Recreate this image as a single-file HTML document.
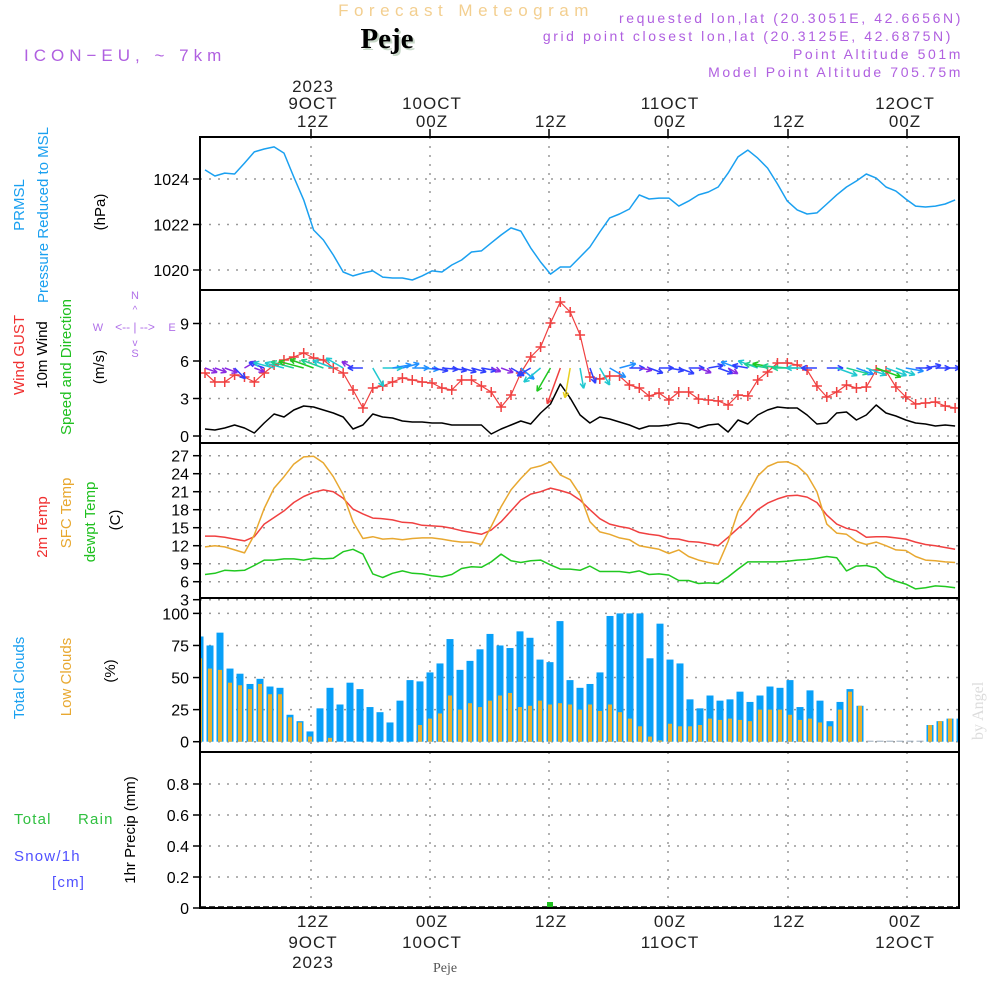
<!DOCTYPE html>
<html><head><meta charset="utf-8"><style>
html,body{margin:0;padding:0;background:#fff;}
svg{display:block;font-family:"Liberation Sans",sans-serif;}
</style></head><body>
<svg id="chart" width="1000" height="1000" viewBox="0 0 1000 1000">
<rect x="0" y="0" width="1000" height="1000" fill="#fff"/>
<text x="466" y="16" text-anchor="middle" font-size="17" fill="#f3cf90" letter-spacing="5.5">Forecast Meteogram</text>
<text x="389" y="50" text-anchor="middle" font-size="29" font-weight="bold" font-family="Liberation Serif,serif" fill="#c8d8c8">Peje</text>
<text x="387" y="48" text-anchor="middle" font-size="29" font-weight="bold" font-family="Liberation Serif,serif" fill="#000">Peje</text>
<text x="24" y="61" font-size="17" fill="#b060e0" letter-spacing="5">ICON−EU, ~ 7km</text>
<g font-size="14" fill="#b060e0" text-anchor="end" letter-spacing="2.6">
<text x="963" y="23">requested lon,lat (20.3051E, 42.6656N)</text>
<text x="953" y="41">grid point closest lon,lat (20.3125E, 42.6875N)</text>
<text x="963" y="59">Point Altitude 501m</text>
<text x="963" y="77">Model Point Altitude 705.75m</text>
</g>
<g id="topaxis" font-size="17" fill="#222" text-anchor="middle" letter-spacing="1">
<text x="313" y="92">2023</text><text x="313" y="109">9OCT</text><text x="313" y="127">12Z</text>
<text x="432" y="109">10OCT</text><text x="432" y="127">00Z</text>
<text x="551" y="127">12Z</text>
<text x="670" y="109">11OCT</text><text x="670" y="127">00Z</text>
<text x="789" y="127">12Z</text>
<text x="905" y="109">12OCT</text><text x="905" y="127">00Z</text>
</g>
<g font-size="17" fill="#222" text-anchor="middle" letter-spacing="1">
<text x="313" y="927">12Z</text><text x="313" y="948">9OCT</text><text x="313" y="968">2023</text>
<text x="432" y="927">00Z</text><text x="432" y="948">10OCT</text>
<text x="551" y="927">12Z</text>
<text x="670" y="927">00Z</text><text x="670" y="948">11OCT</text>
<text x="789" y="927">12Z</text>
<text x="905" y="927">00Z</text><text x="905" y="948">12OCT</text>
</g>
<text x="445" y="972" text-anchor="middle" font-size="14" font-family="Liberation Serif,serif" fill="#555">Peje</text>
<text transform="translate(983,740) rotate(-90)" font-size="16" font-family="Liberation Serif,serif" fill="#dcdcdc">by Angel</text>

<g font-size="15" text-anchor="middle">
<text transform="translate(24,205) rotate(-90)" fill="#1aa0f0">PRMSL</text>
<text transform="translate(48,215) rotate(-90)" fill="#1aa0f0">Pressure Reduced to MSL</text>
<text transform="translate(105,212) rotate(-90)" fill="#000">(hPa)</text>
<text transform="translate(24,355) rotate(-90)" fill="#f03030">Wind GUST</text>
<text transform="translate(47,355) rotate(-90)" fill="#000">10m Wind</text>
<text transform="translate(71,367) rotate(-90)" fill="#20c020">Speed and Direction</text>
<text transform="translate(104,367) rotate(-90)" fill="#000">(m/s)</text>
<text transform="translate(47,527) rotate(-90)" fill="#f03030">2m Temp</text>
<text transform="translate(71,513) rotate(-90)" fill="#e8a830">SFC Temp</text>
<text transform="translate(95,522) rotate(-90)" fill="#20c020">dewpt Temp</text>
<text transform="translate(120,520) rotate(-90)" fill="#000">(C)</text>
<text transform="translate(24,678) rotate(-90)" fill="#1aa0f0">Total Clouds</text>
<text transform="translate(71,677) rotate(-90)" fill="#e8a830">Low Clouds</text>
<text transform="translate(115,671) rotate(-90)" fill="#000">(%)</text>
<text transform="translate(135,830) rotate(-90)" fill="#000">1hr Precip (mm)</text>
</g>
<g font-size="15" letter-spacing="1.2">
<text x="14" y="824" fill="#30c040">Total</text><text x="78" y="824" fill="#30c040">Rain</text>
<text x="14" y="861" fill="#5050ff">Snow/1h</text>
<text x="52" y="887" fill="#5050ff">[cm]</text>
</g>
<g font-size="11" fill="#b070e8" text-anchor="middle">
<text x="135" y="299">N</text><text x="135" y="357">S</text><text x="98" y="331">W</text><text x="172" y="331">E</text>
<text x="135" y="331" font-size="12">&lt;-- | --&gt;</text>
<text x="135" y="313" font-size="10">^</text><text x="135" y="346" font-size="10">v</text>
</g>
<g id="grid"></g>
<g id="marks"></g>
<g id="frames"></g>
</svg>
<script>
const hours = 77;
const dayTickLabels = ["12Z","00Z","12Z","00Z","12Z","00Z"];
const pressure = [1024.40,1024.13,1024.26,1024.22,1024.70,1025.19,1025.32,1025.41,1025.14,1024.09,1023.08,1021.76,1021.32,1020.66,1019.91,1019.74,1019.87,1019.96,1019.69,1019.65,1019.65,1019.56,1019.74,1019.96,1019.91,1020.22,1020.44,1020.79,1020.84,1021.19,1021.54,1021.85,1021.71,1020.97,1020.35,1019.82,1020.13,1020.13,1020.57,1021.01,1021.67,1022.29,1022.46,1022.68,1023.30,1023.12,1023.16,1023.16,1022.81,1023.03,1023.30,1023.43,1023.65,1024.26,1024.97,1025.27,1024.92,1024.48,1023.78,1023.03,1022.64,1022.46,1022.51,1022.90,1023.30,1023.65,1023.91,1024.22,1024.04,1023.65,1023.47,1023.12,1022.81,1022.77,1022.81,1022.90,1023.08];
const gust = [5.04,4.32,4.32,4.88,4.72,4.32,5.04,5.68,6.08,6.32,6.64,6.24,6.08,5.44,5.04,3.68,2.24,3.84,4.0,4.32,4.64,4.48,4.32,4.24,3.84,3.68,4.48,4.48,4.0,3.52,2.32,3.28,5.04,6.32,7.12,9.04,10.72,9.92,8.08,4.72,4.56,4.8,4.8,4.08,3.84,3.2,3.44,2.88,3.52,3.52,2.96,2.88,2.8,2.48,3.28,3.2,4.48,5.12,5.84,5.84,5.68,5.28,4.0,3.12,3.52,4.08,3.84,3.92,5.28,5.2,3.92,3.12,2.56,2.64,2.72,2.4,2.24];
const wind10m = [0.56,0.48,0.64,0.88,0.64,0.24,1.04,1.76,1.52,2.08,2.4,2.32,2.08,1.84,1.52,0.56,0.88,1.76,1.52,1.44,1.2,1.12,1.12,1.04,1.04,0.88,0.88,0.88,0.88,0.16,0.56,0.88,1.2,0.96,1.84,2.56,4.16,3.04,1.68,1.04,1.52,1.36,1.12,0.88,0.56,0.8,0.8,0.88,1.04,0.96,0.64,0.88,0.96,0.32,1.28,0.96,1.68,2.08,2.32,2.24,2.24,1.68,0.96,1.04,1.84,1.92,1.28,1.68,2.48,1.84,1.6,1.28,1.04,0.96,0.8,0.88,0.8];
const windHeading = [20,20,20,45,-30,20,200,195,195,195,195,200,200,200,210,210,180,60,0,-10,-15,0,5,10,5,10,15,15,10,20,20,30,40,150,140,120,110,100,80,70,60,30,-15,0,10,20,0,10,20,0,20,-10,20,30,200,190,200,190,190,185,180,180,180,0,20,15,20,20,20,20,20,10,0,-10,0,0,0];
const temp2m = [13.6,13.6,13.4,13.1,12.8,13.5,15.6,16.7,17.8,19.2,20.2,20.9,21.3,21.0,19.9,18.1,17.3,16.6,16.5,16.3,15.9,15.8,15.4,15.3,15.2,14.9,14.5,14.2,13.9,14.6,16.0,17.8,19.6,20.6,21.0,21.6,21.2,20.7,19.6,18.0,16.5,15.6,15.2,14.9,14.2,13.9,13.7,13.2,13.1,12.7,12.6,12.3,12.0,13.4,14.9,16.3,18.0,19.1,19.8,20.3,20.4,20.1,19.2,17.1,15.6,14.9,14.5,13.4,13.5,13.5,13.3,13.1,12.6,12.2,12.0,11.7,11.4];
const tempSfc = [11.8,12.0,11.8,11.3,10.8,13.8,18.2,21.6,23.5,25.6,26.8,26.9,25.8,23.5,20.5,16.0,13.2,13.5,13.1,13.2,13.0,13.2,13.3,13.3,13.1,12.8,12.6,12.6,12.2,15.2,18.5,21.3,23.2,24.9,25.3,26.0,23.8,23.0,20.5,16.0,14.3,13.9,13.3,13.0,12.0,11.7,11.4,10.7,11.3,10.2,9.6,9.2,8.9,12.7,17.7,20.5,23.6,25.2,25.9,26.0,25.3,23.8,21.0,15.6,14.1,13.9,12.7,12.2,12.6,12.0,11.3,11.2,10.2,9.6,9.5,9.3,9.2];
const dewpoint = [7.2,7.4,7.9,7.8,7.9,8.7,9.6,9.6,9.8,9.8,9.6,9.9,9.8,9.9,11.0,11.4,10.6,7.3,6.7,7.4,7.8,7.4,7.3,7.0,6.8,7.2,8.2,8.5,8.4,9.3,10.6,9.5,9.2,9.5,9.6,8.8,8.1,8.1,7.9,8.6,7.7,7.7,7.7,7.5,7.8,7.2,7.3,7.1,6.2,6.2,5.7,5.8,5.7,6.8,8.1,9.3,9.3,9.3,9.3,9.4,9.6,9.7,9.9,10.2,10.0,7.8,8.6,8.7,8.3,6.8,6.1,5.6,4.8,5.0,5.3,5.2,5.0];
const totalClouds = [82,75,85,57,53,45,49,43,42,21,16,8,26,42,29,46,41,27,23,15,32,48,47,54,61,80,56,63,72,84,75,73,86,81,64,62,94,48,42,45,54,98,100,100,100,65,92,64,61,33,26,36,32,33,39,31,36,43,42,48,27,40,32,16,31,41,28,0,0,0,0,0,0,13,16,18,18];
const lowClouds = [65,57,56,46,44,41,45,37,37,19,15,4,0,3,0,0,0,0,0,0,0,0,13,18,22,36,25,30,27,32,36,38,27,28,32,29,30,29,25,29,24,29,23,18,12,4,1,14,12,12,13,18,17,18,17,16,25,25,25,21,17,18,15,12,25,39,28,0,0,0,0,0,0,13,16,18,18];
const rain = [0,0,0,0,0,0,0,0,0,0,0,0,0,0,0,0,0,0,0,0,0,0,0,0,0,0,0,0,0,0,0,0,0,0,0,0.03,0,0,0,0,0,0,0,0,0,0,0,0,0,0,0,0,0,0,0,0,0,0,0,0,0,0,0,0,0,0,0,0,0,0,0,0,0,0,0,0,0];
const pressureTicks = [1020,1022,1024];
const windTicks = [0,3,6,9];
const tempTicks = [3,6,9,12,15,18,21,24,27];
const cloudTicks = [0,25,50,75,100];
const precipTicks = [0,0.2,0.4,0.6,0.8];

const NS="http://www.w3.org/2000/svg";
const L=200,R=959;
const P={pres:[137,290],wind:[290,443],temp:[443,598],cloud:[598,752],prec:[752,908]};
const vx=[311,430,549,668,788,907];
const xL=i=>205+9.87*i;
const xB=i=>200+10*i;
const yP=p=>270-(p-1020)*22.75;
const yW=v=>436-v*12.5;
const yT=t=>455.7+(27-t)*6;
const yC=c=>741.7-c*1.283;
const yR=r=>908-r*155;
function el(tag,attrs,parent){const e=document.createElementNS(NS,tag);for(const k in attrs)e.setAttribute(k,attrs[k]);parent.appendChild(e);return e;}
const grid=document.getElementById('grid'),marks=document.getElementById('marks'),frames=document.getElementById('frames');

function panel(name,range,ticks,yf,fmt){
  for(const x of vx){
    const g=el('line',{x1:x,x2:x,y1:range[0],y2:range[1],stroke:'#999','stroke-width':1.5,'stroke-dasharray':'2,7'},grid);
    
    
  }
  for(const t of ticks){
    const y=yf(t);
    const h=el('line',{x1:L,x2:R,y1:y,y2:y,stroke:'#999','stroke-width':1.5,'stroke-dasharray':'2,7'},grid);
    
    
    const tk=el('line',{x1:L-7,x2:L,y1:y,y2:y,stroke:'#000','stroke-width':1.5},frames);
    
    
    const tx=el('text',{x:L-11,y:y+6,'text-anchor':'end','font-size':16,fill:'#000'},frames);
    tx.textContent=fmt(t);
    
    
  }
  const f=el('rect',{x:L,y:range[0],width:R-L,height:range[1]-range[0],fill:'none',stroke:'#000','stroke-width':2},frames);
  
  
}
panel('pressure',P.pres,pressureTicks,yP,t=>t);
panel('wind',P.wind,windTicks,yW,t=>t);
panel('temp',P.temp,tempTicks,yT,t=>t);
panel('cloud',P.cloud,cloudTicks,yC,t=>t);
panel('precip',P.prec,precipTicks,yR,t=>t===0?'0':t.toFixed(1));
for(let k=0;k<vx.length;k++){
  const t=el('line',{x1:vx[k],x2:vx[k],y1:129,y2:137,stroke:'#000','stroke-width':1.5},frames);
  
  
}
const clip=el('clipPath',{id:'pc'},document.getElementById('chart'));
el('rect',{x:L,y:130,width:R-L,height:790},clip);
marks.setAttribute('clip-path','url(#pc)');

function line(arr,xf,yf,color,name,w){
  const pts=arr.map((v,i)=>xf(i).toFixed(1)+','+yf(v).toFixed(1)).join(' ');
  const p=el('polyline',{points:pts,fill:'none',stroke:color,'stroke-width':w||1.5,'stroke-linejoin':'round'},marks);
  
  
}
line(pressure,xL,yP,'#1aa0f0','pressure-line');
line(wind10m,xL,yW,'#000','wind-10m-line');
line(gust,xL,yW,'#f04040','wind-gust-line',1.2);
gust.forEach((v,i)=>{
  const x=xL(i),y=yW(v);
  const m=el('path',{d:`M${x-5},${y}H${x+5}M${x},${y-5}V${y+5}`,stroke:'#f04040','stroke-width':1.5},marks);
  
  
});
function wcol(s){
  if(s<0.7)return'#8a2be2';if(s<1.1)return'#3040ff';if(s<1.5)return'#2090ff';if(s<1.9)return'#20c8d0';
  if(s<2.3)return'#20d090';if(s<2.8)return'#20c820';if(s<3.5)return'#e8d020';return'#f04040';
}
windHeading.forEach((a,i)=>{
  const s=wind10m[i],len=9+7*s,r=a*Math.PI/180;
  const x0=xL(i),y0=368,x1=x0+len*Math.cos(r),y1=y0+len*Math.sin(r);
  const h1=r+Math.PI-0.45,h2=r+Math.PI+0.45;
  const d=`M${x0},${y0}L${x1},${y1}M${x1},${y1}L${x1+6*Math.cos(h1)},${y1+6*Math.sin(h1)}M${x1},${y1}L${x1+6*Math.cos(h2)},${y1+6*Math.sin(h2)}`;
  const ar=el('path',{d:d,stroke:wcol(s),'stroke-width':1.5,fill:'none'},marks);
  
  
});
line(temp2m,xL,yT,'#f04040','temp-2m-line');
line(tempSfc,xL,yT,'#e8a830','temp-sfc-line');
line(dewpoint,xL,yT,'#20c820','dewpoint-line');
totalClouds.forEach((c,i)=>{
  const x=xB(i),y=yC(c),h=Math.max(yC(0)-y,1);
  const b=el('rect',{x:x-3.5,y:yC(0)-h,width:7,height:h,fill:c>0?'#08a0f8':'#9ab'},marks);
  
  
  const lc=lowClouds[i];
  if(lc>0){
    const o=el('rect',{x:x-2,y:yC(lc),width:4,height:yC(0)-yC(lc),fill:'#e8b030'},marks);
    
    
  }
});
const zl=el('line',{x1:L,x2:R,y1:907,y2:907,stroke:'#000','stroke-width':1.5,'stroke-dasharray':'6,3'},marks);


rain.forEach((r,i)=>{
  if(r<=0)return;
  const x=xB(i);
  const h=Math.max(yR(0)-yR(r),6);
  const b=el('rect',{x:x-3,y:908-h,width:6,height:h,fill:'#20c020'},marks);
  
  
});
</script>
</body></html>
